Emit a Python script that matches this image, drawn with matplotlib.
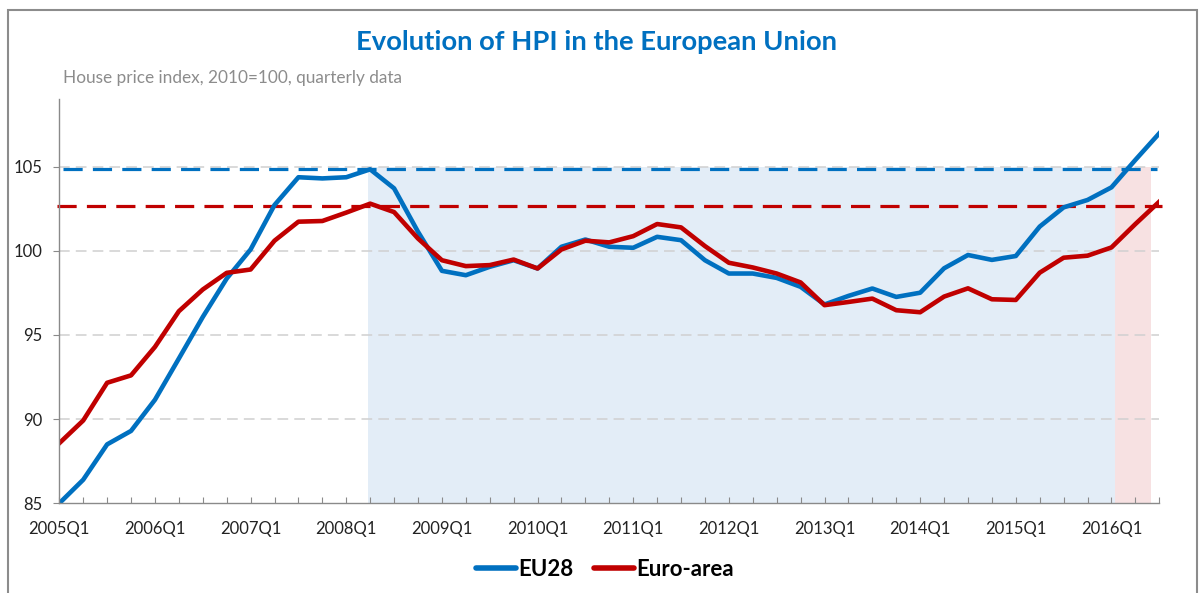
import matplotlib
matplotlib.use("Agg")
import matplotlib.pyplot as plt
from matplotlib.patches import Rectangle
import numpy as np

# ---------------- data ----------------
years = list(range(2005, 2017))
quarters = [f"{y}Q{q}" for y in years for q in range(1, 5)][:47]   # 2005Q1 .. 2016Q3
tick_labels = [f"{y}Q1" for y in years]

eu28 = [85.0, 86.4, 88.5, 89.3, 91.15, 93.6, 96.07, 98.35, 100.08, 102.72,
        104.37, 104.3, 104.37, 104.84, 103.71, 101.13, 98.81, 98.55, 99.05, 99.44,
        98.95, 100.24, 100.67, 100.24, 100.18, 100.83, 100.63, 99.44, 98.65, 98.65,
        98.39, 97.86, 96.81, 97.32, 97.76, 97.26, 97.51, 98.96, 99.75, 99.46,
        99.69, 101.44, 102.58, 103.02, 103.77, 105.4, 106.98]

euro_area = [88.57, 89.92, 92.16, 92.6, 94.29, 96.41, 97.7, 98.69, 98.89, 100.6,
             101.73, 101.77, 102.27, 102.8, 102.3, 100.73, 99.44, 99.09, 99.15, 99.48,
             98.95, 100.08, 100.6, 100.5, 100.87, 101.59, 101.39, 100.28, 99.29, 99.01,
             98.65, 98.12, 96.77, 96.96, 97.16, 96.47, 96.35, 97.28, 97.77, 97.12,
             97.08, 98.7, 99.59, 99.71, 100.2, 101.59, 102.92]

eu28_peak = 104.86
euro_area_peak = 102.68

y_ticks = [85, 90, 95, 100, 105]

# ---------------- style ----------------
BLUE = "#0070C0"
RED = "#C00000"
FONT = "Lato"

plt.rcParams["font.family"] = [FONT, "DejaVu Sans"]

fig = plt.figure(figsize=(12, 5.93), dpi=100)
W, H = 1200, 593
ax = fig.add_axes([59.3 / W, 1 - 503.3 / H, 1100 / W, 404 / H])

x = np.arange(len(quarters))

# shaded periods
ax.fill_between([12.91, 44.15], 85, 105, color="#E3EDF7", lw=0, zorder=0)
ax.fill_between([44.15, 45.66], 85, 105, color="#F7E1E2", lw=0, zorder=0)

# grid
for yv in y_ticks[1:]:
    ax.axhline(yv, color="#D0D0D0", lw=1.1, dashes=(7, 4), zorder=1)

# peak reference lines
ax.plot([0.15, 45.9], [eu28_peak, eu28_peak], color=BLUE, lw=2.3, dashes=(6, 3.2), zorder=2)
ax.plot([-0.1, 46.1], [euro_area_peak, euro_area_peak], color=RED, lw=2.3,
        dashes=(6, 3.2), zorder=2, clip_on=False)

ax.plot(x, eu28, color=BLUE, lw=3.3, solid_joinstyle="round", label="EU28", zorder=3)
ax.plot(x, euro_area, color=RED, lw=3.3, solid_joinstyle="round", label="Euro-area", zorder=4)

ax.set_xlim(0, len(quarters) - 1)
ax.set_ylim(85, 109)

ax.set_yticks(y_ticks)
ax.set_yticklabels([str(v) for v in y_ticks])
ax.set_xticks(np.arange(0, len(quarters), 4))
ax.set_xticklabels(tick_labels)
ax.set_xticks(x, minor=True)

for s in ["top", "right"]:
    ax.spines[s].set_visible(False)
for s in ["left", "bottom"]:
    ax.spines[s].set_color("#8A8A8A")
    ax.spines[s].set_linewidth(1.0)
    ax.spines[s].set_zorder(5)

ax.tick_params(axis="y", direction="out", length=4.3, width=0.8, color="#8A8A8A",
               pad=8, labelsize=12, labelcolor="#222222")
ax.tick_params(axis="x", which="both", direction="in", length=4.3, width=0.8,
               color="#8A8A8A", pad=13, labelsize=12, labelcolor="#222222")
ax.patch.set_alpha(0)

# titles
fig.text(597 / W, 1 - 42 / H, "Evolution of HPI in the European Union",
         ha="center", va="center", fontsize=19.7, fontweight="bold", color=BLUE)
fig.text(63 / W, 1 - 78 / H, "House price index, 2010=100, quarterly data",
         ha="left", va="center", fontsize=12.4, color="#8C8C8C")

leg = fig.legend(loc="center", bbox_to_anchor=(605 / W, 1 - 569 / H), ncol=2,
                 frameon=False, handlelength=1.8, handletextpad=0.1,
                 columnspacing=0.9, prop={"family": FONT, "weight": "bold", "size": 16})
for line in leg.get_lines():
    line.set_linewidth(4)
    line.set_solid_capstyle("round")

# outer frame
fig.add_artist(Rectangle((8 / W, -0.1), (1197 - 8) / W, 1.1 - 10 / H,
                         transform=fig.transFigure, fill=False,
                         edgecolor="#8C8C8C", lw=1.5))

fig.savefig("out.png", dpi=100)
